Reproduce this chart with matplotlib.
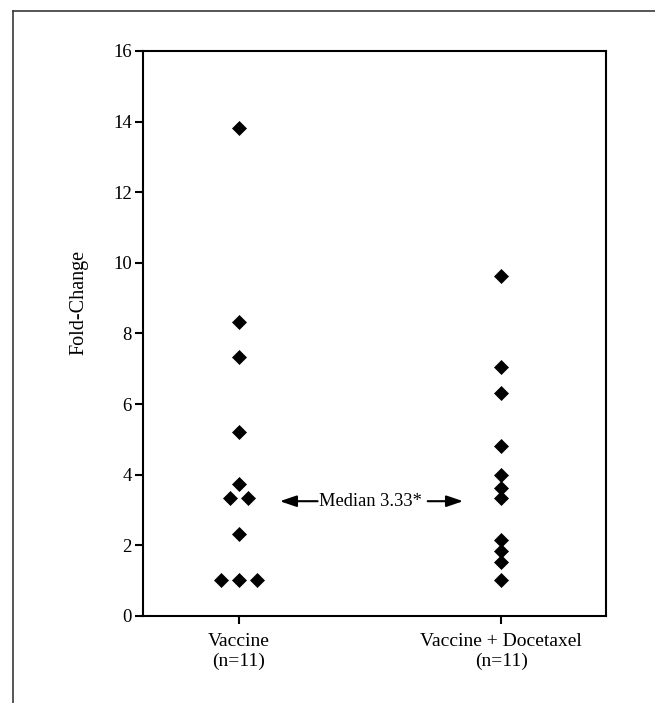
import numpy as np
import matplotlib
matplotlib.use('Agg')
import matplotlib.pyplot as plt
from matplotlib.lines import Line2D

plt.rcParams['font.family'] = ['Liberation Serif', 'DejaVu Serif']

# 데이터
groups = ['Vaccine\n(n=11)', 'Vaccine + Docetaxel\n(n=11)']
vaccine = [13.83, 8.33, 7.34, 5.21, 3.74, 3.34, 3.34, 2.32, 1.02, 1.02, 1.02]
vaccine_doce = [9.63, 7.04, 6.32, 4.80, 4.00, 3.62, 3.34, 2.15, 1.83, 1.52, 1.02]
median_label = 'Median 3.33*'
median_y = 3.25


def spread(values, center, step=0.067):
    # 같은 값은 옆으로 나란히 배치
    xs = []
    for v in values:
        n = values.count(v)
        k = sum(1 for u in xs if u[1] == v)
        xs.append((center + (k - (n - 1) / 2) * step, v))
    return [p[0] for p in xs], [p[1] for p in xs]


fig = plt.figure(figsize=(6.55, 7.03), dpi=100)
ax = fig.add_axes([0.2183, 0.1238, 0.7069, 0.8037])

for i, vals in enumerate([vaccine, vaccine_doce]):
    x, y = spread(vals, i + 1)
    ax.plot(x, y, linestyle='none', marker='D', markersize=7.2,
            color='black', markeredgewidth=0.5)

ax.set_xlim(0.634, 2.40)
ax.set_ylim(0, 16)
ax.set_yticks(range(0, 17, 2))
ax.set_xticks([1, 2])
ax.set_xticklabels(groups)
ax.set_ylabel('Fold-Change', fontsize=14.5)
ax.yaxis.set_label_coords(-0.117, 0.555)

for s in ax.spines.values():
    s.set_linewidth(1.5)
ax.tick_params(axis='y', direction='out', length=6, width=1.5, pad=2, labelsize=13.5)
ax.tick_params(axis='x', direction='out', length=6, width=1.5, pad=6, labelsize=14)

# 중앙값 화살표
ax.text(1.5, median_y, median_label, ha='center', va='center', fontsize=13.3)
arrow = dict(arrowstyle='-|>,head_length=0.5,head_width=0.17', mutation_scale=20,
             color='black', lw=1.5, shrinkA=0, shrinkB=0)
ax.annotate('', xy=(1.156, median_y), xytext=(1.30, median_y), arrowprops=arrow)
ax.annotate('', xy=(1.855, median_y), xytext=(1.72, median_y), arrowprops=arrow)

# 바깥 테두리
fig.add_artist(Line2D([12.5 / 655, 12.5 / 655], [0, 1 - 10.5 / 703], color='#3a3a3a', lw=1.2))
fig.add_artist(Line2D([12.5 / 655, 1], [1 - 10.5 / 703, 1 - 10.5 / 703], color='#3a3a3a', lw=1.2))

fig.savefig('out.png', dpi=100)
